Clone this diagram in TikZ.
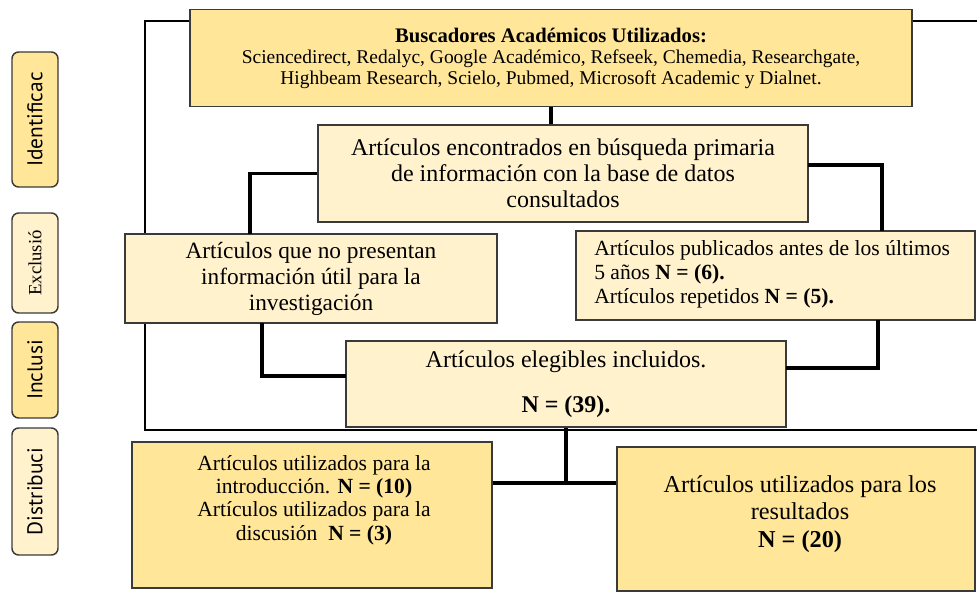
\documentclass[tikz,border=0pt]{standalone}
\usepackage{fontspec}
\setmainfont{Liberation Serif}
\newfontfamily\ladofont{PT Sans}
\usetikzlibrary{positioning,calc}
\definecolor{oro}{HTML}{FFE699}
\definecolor{crema}{HTML}{FFF2CC}
\definecolor{borde}{HTML}{3A3A3A}
\newcommand{\px}{0.75pt}

\begin{document}
\begin{tikzpicture}[x=0.75pt,y=0.75pt,yscale=-1,xscale=1,
	caja/.style={draw=borde, line width=0.9pt, inner sep=0pt, align=center},
	cajaoro/.style={caja, fill=oro},
	cajacrema/.style={caja, fill=crema},
	texto/.style={inner sep=0pt, align=center},
	lado/.style={draw=borde, line width=1.1pt, rounded corners=5pt, rotate=90, inner sep=0pt, minimum height=46*\px},
	enlace/.style={line width=2.3pt},
	marco/.style={line width=1.5pt}]
		\useasboundingbox (0,0) rectangle (977,592);

		%marco exterior
		\draw [marco] (190,21) -- (145,21) -- (145,430) -- (977,430) ;
		\draw [marco] (912,21) -- (977,21) ;

		\node [lado, fill=oro, minimum width=135*\px, font=\ladofont\fontsize{16}{16}\selectfont] (ident) at (35,119.5) {Identificac};
		\node [lado, fill=crema, minimum width=100*\px, font=\fontsize{14}{14}\selectfont] (exclu) at (35,263) {Exclusió};
		\node [lado, fill=oro, minimum width=96*\px, font=\ladofont\fontsize{16}{16}\selectfont] (inclu) at (35,370) {Inclusi};
		\node [lado, fill=crema, minimum width=127*\px, font=\ladofont\fontsize{16}{16}\selectfont] (distr) at (35,491.5) {Distribuci};

		\node [cajaoro, minimum width=722*\px, minimum height=97*\px, font=\fontsize{14.6}{15.75}\selectfont] (busc) at (551,58) {{\fontsize{15.5}{15.75}\selectfont\textbf{Buscadores Académicos Utilizados:}}\\ Sciencedirect, Redalyc, Google Académico, Refseek, Chemedia, Researchgate,\\ Highbeam Research, Scielo, Pubmed, Microsoft Academic y Dialnet.};
		\node [cajacrema, minimum width=490*\px, minimum height=97*\px, font=\fontsize{18}{19.5}\selectfont] (encontr) at (563,173.5) {Artículos encontrados en búsqueda primaria\\ de información con la base de datos\\ consultados};
		\node [cajacrema, minimum width=372*\px, minimum height=89*\px, font=\fontsize{17.5}{19.5}\selectfont] (nouso) at (311,278.5) {Artículos que no presentan\\ información útil para la\\ investigación};
		\node [cajacrema, minimum width=399*\px, minimum height=89*\px] (viejo) at (775.5,275.5) {};
		\node [texto, anchor=west, align=left, font=\fontsize{16.2}{18}\selectfont] (viejo-t) at (594,274) {Artículos publicados antes de los últimos\\ 5 años \textbf{N = (6).}\\ Artículos repetidos \textbf{N = (5).}};
		\node [cajacrema, minimum width=440*\px, minimum height=86*\px, font=\fontsize{18}{19.5}\selectfont] (eleg) at (566,384) {Artículos elegibles incluidos.\\[14pt] \textbf{N = (39).}};
		\node [cajaoro, minimum width=360*\px, minimum height=146*\px] (intro) at (312,515) {};
		\node [texto, font=\fontsize{16.2}{17.6}\selectfont] (intro-t) at (314,500) {Artículos utilizados para la\\ introducción. \textbf{N = (10)}\\ Artículos utilizados para la\\ discusión \ \textbf{N = (3)}};
		\node [cajaoro, minimum width=358*\px, minimum height=144*\px] (result) at (796,519) {};
		\node [texto, font=\fontsize{18.2}{20.6}\selectfont] (result-t) at (800,514) {Artículos utilizados para los\\ resultados\\ \textbf{N = (20)}};

		\coordinate (nousoArr) at (250,234);
		\coordinate (encDer) at (808,165);
		\coordinate (viejoArr) at (882,231);
		\coordinate (viejoAb) at (878,320);
		\coordinate (elegDer) at (786,368);
		\coordinate (nousoAb) at (262,323);
		\coordinate (elegIzq) at (346,376);
		\coordinate (cruce) at (566,483);

		\draw [enlace] (busc.south) -- (busc.south |- encontr.north) ;
		\draw [enlace] (encontr.west) -| (nousoArr) ;
		\draw [enlace] (encDer) -| (viejoArr) ;
		\draw [enlace] (viejoAb) |- (elegDer) ;
		\draw [enlace] (nousoAb) |- (elegIzq) ;
		\draw [enlace] (eleg.south) -- (cruce) ;
		\draw [enlace] (intro.east |- cruce) -- (result.west |- cruce) ;
\end{tikzpicture}
\end{document}
